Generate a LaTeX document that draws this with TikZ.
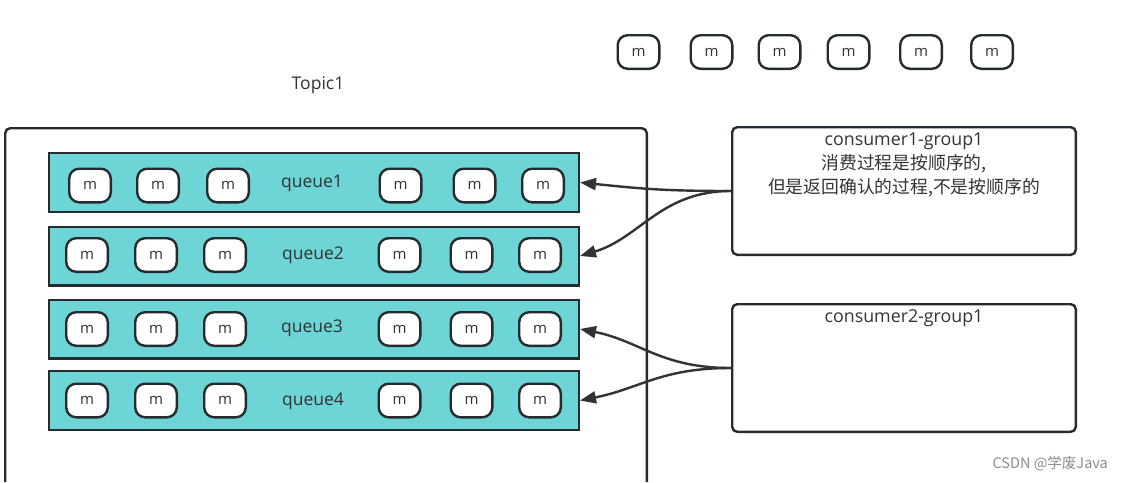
\documentclass[tikz,border=0pt]{standalone}
\usepackage{fontspec}
\setmainfont{Open Sans}
\newfontfamily\cjk{Noto Sans CJK SC}
\usetikzlibrary{arrows.meta}

\definecolor{linegray}{HTML}{262B30}
\definecolor{queuecyan}{HTML}{6DD5D6}
\definecolor{textgray}{HTML}{333333}

\tikzset{
  msg/.style={draw=linegray, line width=2.4pt, fill=white, rounded corners=10pt,
    minimum width=41.6pt, minimum height=33.6pt, inner sep=0pt, text=textgray,
    font=\fontsize{15}{15}\selectfont},
  queuebox/.style={draw=linegray, line width=2.4pt, fill=queuecyan,
    minimum width=529.6pt, minimum height=58.6pt, inner sep=0pt},
  qlabel/.style={text=textgray, inner sep=0pt, font=\fontsize{17.5}{17.5}\selectfont},
  consumerbox/.style={draw=linegray, line width=2.4pt, rounded corners=5pt,
    minimum width=343.6pt, minimum height=127.6pt, inner sep=0pt},
  ctext/.style={text=textgray, align=center, inner sep=0pt, anchor=north,
    font=\fontsize{17.8}{24}\selectfont},
  arr/.style={draw=textgray, line width=2.4pt, -{Triangle[length=16pt,width=12pt]}}
}

\begin{document}
\begin{tikzpicture}[x=1pt, y=-1pt]
    \useasboundingbox (0,0) rectangle (1121,482);

    % Loose messages above the topic
    \foreach \mx [count=\i] in {638.5,711.5,779.5,848.5,921,992}
        \node[msg] (top\i) at (\mx,52) {m};

    % Topic frame, open at the bottom
    \draw[draw=linegray, line width=2.4pt, rounded corners=5pt]
        (5.2,482) -- (5.2,128.2) -- (646.8,128.2) -- (646.8,482);
    \node[qlabel] (topic) at (318,85) {Topic1};

    % Queues with their messages
    \node[queuebox] (q1) at (314,182.5) {};
    \node[qlabel] (q1label) at (312,183) {queue1};
    \foreach \mx [count=\i] in {90,158,228,400.5,474.5,543}
        \node[msg] (q1m\i) at (\mx,185.5) {m};

    \node[queuebox] (q2) at (314,256) {};
    \node[qlabel] (q2label) at (313,255) {queue2};
    \foreach \mx [count=\i] in {87,156,225,399.5,471.5,540}
        \node[msg] (q2m\i) at (\mx,255) {m};

    \node[queuebox] (q3) at (314,329) {};
    \node[qlabel] (q3label) at (312,328) {queue3};
    \foreach \mx [count=\i] in {87,156,225,399.5,471.5,540}
        \node[msg] (q3m\i) at (\mx,329) {m};

    \node[queuebox] (q4) at (314,400.5) {};
    \node[qlabel] (q4label) at (313,401) {queue4};
    \foreach \mx [count=\i] in {87,156,225,399.5,471.5,540}
        \node[msg] (q4m\i) at (\mx,400.5) {m};

    % Consumers
    \node[consumerbox] (c1) at (904,191) {};
    \node[ctext] (c1text) at ([yshift=-6.5pt]c1.north)
        {consumer1-group1\\{\cjk 消费过程是按顺序的,}\\{\cjk 但是返回确认的过程,不是按顺序的}};

    \node[consumerbox] (c2) at (904,368) {};
    \node[ctext] (c2text) at ([yshift=-6.5pt]c2.north) {consumer2-group1};

    % Consumers pulling from the queues
    \draw[arr] (c1.west) .. controls +(-70,0) and +(60,6) .. (q1.east);
    \draw[arr] (c1.west) .. controls +(-70,0) and +(60,-18) .. (q2.east);
    \draw[arr] (c2.west) .. controls +(-70,0) and +(60,12) .. (q3.east);
    \draw[arr] (c2.west) .. controls +(-70,0) and +(60,-12) .. (q4.east);

    % Watermark
    \node[anchor=east, inner sep=0pt, text=black!45, font=\cjk\fontsize{14.5}{14.5}\selectfont]
        (mark) at (1108,464) {CSDN @学废Java};

\end{tikzpicture}
\end{document}
